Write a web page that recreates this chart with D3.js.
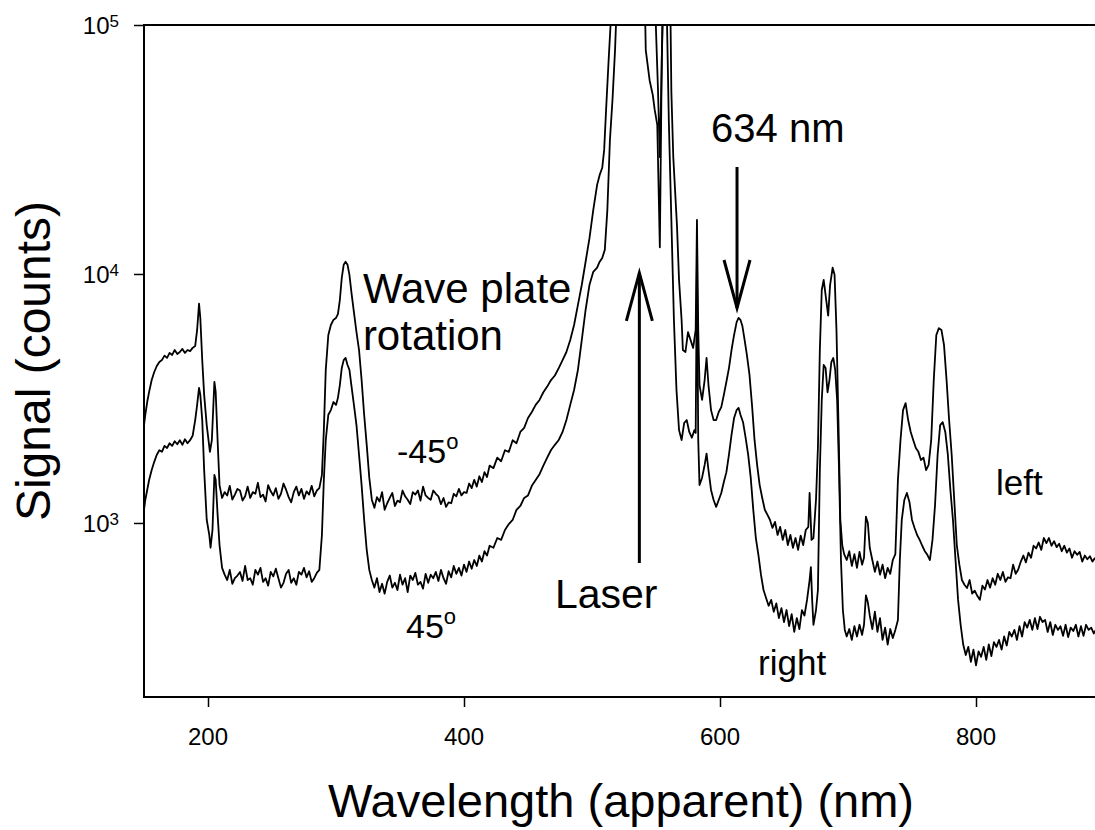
<!DOCTYPE html>
<html>
<head>
<meta charset="utf-8">
<script src="https://cdn.jsdelivr.net/npm/d3@7"></script>
<style>
  html, body { margin: 0; padding: 0; background: #fff; }
  svg { display: block; }
  text { font-family: "Liberation Sans", Arial, sans-serif; fill: #000; }
</style>
</head>
<body>
<svg id="chart" width="1095" height="830"></svg>
<script>
// ---------------- data (wavelength nm, counts) ----------------
const xTicks = [200, 400, 600, 800];
const yTicks = [1e3, 1e4, 1e5];
const yTickExponents = ["3", "4", "5"];

// upper trace: wave plate -45°, "left"
const leftSpectrum = [
[150,2470],[151,2720],[152.5,3060],[154,3360],[156,3750],[158,4040],[160,4270],[162,4430],[164,4510],[166,4700],
[168,4600],[170,4820],[172,4730],[174,4950],[176,4770],[178,4860],[180,5000],[182,4820],[184,4950],[186,4900],
[188,5050],[190,5140],[191.5,5960],[193,7600],[194,6650],[195.5,4510],[197,3270],[199,2470],[201.5,1930],[203,2150],
[205,3690],[206,3360],[207.5,2150],[209,1420],[211,1260],[213,1330],[215,1290],[217,1410],[219,1240],[221,1300],
[223,1370],[225,1350],[227,1230],[229,1280],[231,1400],[233,1260],[235,1330],[237,1310],[239,1450],[241,1270],
[243,1300],[245,1220],[247,1420],[249,1340],[251,1290],[253,1380],[255,1250],[257,1310],[259,1440],[261,1360],
[263,1270],[265,1210],[267,1330],[269,1400],[271,1290],[273,1370],[275,1250],[277,1340],[279,1300],[281,1410],
[283,1280],[285,1350],[287,1380],[289,1560],[290.5,2360],[292,4120],[294,5690],[296,6240],[298,6540],[300,6660],
[301.5,6900],[303,7860],[304.5,9640],[306,10890],[307.5,11200],[309,10890],[310.5,9920],[312,8470],[314,7030],[316,5840],
[318,4950],[320,3750],[322,2720],[324,2060],[326,1520],[328,1240],[330,1150],[332,1270],[334,1220],[336,1330],
[338,1130],[340,1200],[342,1260],[344,1320],[346,1170],[348,1230],[350,1210],[352,1350],[354,1280],[356,1240],
[358,1190],[360,1330],[362,1300],[364,1350],[366,1230],[368,1400],[370,1290],[372,1260],[374,1240],[376,1350],
[378,1310],[380,1280],[382,1190],[384,1260],[386,1160],[388,1210],[390,1200],[392,1310],[394,1280],[396,1370],
[398,1290],[400,1330],[402,1320],[404,1440],[406,1380],[408,1490],[410,1400],[412,1540],[414,1460],[416,1600],
[418,1530],[420,1700],[423,1660],[426,1830],[429,1770],[432,1960],[435,1930],[438,2150],[441,2090],[444,2320],
[447,2410],[450,2640],[453,2790],[456,2980],[459,3120],[462,3350],[465,3530],[468,3750],[471,3910],[474,4190],
[477,4510],[480,4860],[483,5430],[486,6240],[489,7510],[492,9030],[495,11200],[498,13900],[501,18100],[504,22800],
[506,25000],[508,26700],[509.5,31500],[511,45600],[513,72400],[514.5,100000],[516,150000],[530,150000],[549,150000],
[550,95000],[551.5,56000],[553,29500],[554.5,70000],[555.5,150000],[561,150000],[562,54000],[563.5,29500],[566.4,15600],
[568,9460],[570,6535],[571,4950],[573,4860],[575,5840],[577,5430],[579,5050],[581,5960],[582,16500],[583,5960],
[584,3580],[586,3120],[588,3750],[589.5,4600],[591,3580],[593,2840],[595,2590],[597,2590],[599,2790],[601,2920],
[603,3270],[605,3690],[607,4190],[609,4950],[611,5690],[613,6410],[614.5,6660],[616,6540],[617.5,6180],[619,5530],
[621,4730],[623,3950],[625,2980],[627,2150],[629,1710],[631,1420],[633,1260],[635,1130],[637,1080],[639,1030],
[641,955],[643,1010],[645,895],[647,965],[649,855],[651,937],[653,815],[655,895],[657,795],[659,870],
[661,780],[663,890],[665,815],[667,937],[669,965],[670,1320],[671.5,855],[673,870],[675,1240],[676.5,2010],
[678,4950],[679.5,8620],[681,9460],[683,7860],[684.5,6800],[686,9030],[688,10600],[689.5,9920],[691,5960],[692.5,2590],
[694,1030],[695.5,815],[697,750],[699,710],[701,770],[703,672],[705,750],[707,660],[709,765],[711,680],
[712.5,725],[714,1060],[715.5,1000],[717,795],[719,710],[721,636],[723,700],[725,620],[727,680],[729,600],
[731,660],[733,625],[735,710],[737,750],[739,1490],[741,2150],[743,2840],[745,3030],[747,2590],[749,2320],
[751,2150],[753,2000],[755,1930],[757,1790],[759,1830],[761,1630],[763,1710],[765,2150],[767,3750],[769,5690],
[771,6060],[773,5960],[775,5190],[777,3750],[779,2590],[781,1880],[783,1240],[785,815],[787,680],[789,590],
[791,565],[793,548],[795,590],[797,520],[799,535],[801,510],[803,491],[805,560],[807,540],[809,590],
[811,550],[813,600],[815,565],[817,625],[819,590],[821,636],[823,580],[825,605],[827,600],[829,680],
[831,625],[833,650],[835,700],[837,740],[839,695],[841,760],[843,725],[845,810],[847,790],[849,835],
[851,780],[853,870],[855,830],[857,870],[859,810],[861,845],[863,800],[865,825],[867,770],[869,810],
[871,760],[873,790],[875,725],[877,770],[879,745],[881,765],[883,700],[885,740],[887,715],[889,735],
[891,700],[893,725]
];

// lower trace: wave plate 45°, "right"
const rightSpectrum = [
[150,1128],[151,1237],[152.5,1357],[154,1488],[156,1633],[158,1760],[160,1880],[162,1960],[164,1930],[166,2040],
[168,2000],[170,2090],[172,2040],[174,2130],[176,2070],[178,2150],[180,2060],[182,2170],[184,2090],[186,2150],
[188,2240],[190,2590],[191.5,2980],[193,3490],[194,3270],[195.5,2590],[197,1630],[199,1030],[201,895],[202,795],
[203.5,937],[205,1560],[206,1490],[207.5,1080],[209,815],[211,660],[213,620],[215,590],[217,648],[219,570],
[221,600],[223,615],[225,636],[227,585],[229,672],[231,590],[233,600],[235,565],[237,648],[239,620],
[241,660],[243,580],[245,600],[247,560],[249,636],[251,610],[253,655],[255,600],[257,550],[259,575],
[261,625],[263,648],[265,575],[267,600],[269,565],[271,636],[273,620],[275,660],[277,605],[279,640],
[281,580],[283,600],[285,630],[287,648],[289,895],[290.5,1488],[292,2154],[294,2720],[296,2840],[298,3060],
[300,2980],[301.5,3180],[303,3580],[304.5,4190],[306,4510],[307.5,4600],[309,4310],[310.5,4120],[312,3580],[314,2980],
[316,2470],[318,1880],[320,1420],[322,1030],[324,779],[326,648],[328,590],[330,550],[332,600],[334,528],
[336,570],[338,520],[340,580],[342,615],[344,550],[346,575],[348,538],[350,620],[352,565],[354,600],
[356,528],[358,615],[360,590],[362,630],[364,565],[366,580],[368,545],[370,625],[372,575],[374,620],
[376,600],[378,636],[380,585],[382,648],[384,600],[386,570],[388,640],[390,605],[392,672],[394,625],
[396,660],[398,615],[400,680],[402,636],[404,700],[406,655],[408,710],[410,672],[412,740],[414,700],
[416,770],[418,740],[420,810],[423,795],[426,870],[429,855],[432,937],[435,990],[438,1028],[441,1128],
[444,1170],[447,1260],[450,1290],[453,1410],[456,1488],[459,1570],[462,1700],[465,1830],[468,1964],[471,2060],
[474,2154],[477,2320],[480,2590],[483,2980],[486,3420],[489,4120],[492,5430],[495,7170],[498,9030],[501,10200],
[504,10600],[506,11200],[508,11600],[510,12500],[512,18100],[514,34500],[516,50000],[518,79300],[520,150000],[530,150000],
[541,150000],[542,79300],[545,60000],[547.5,52300],[549,45600],[551,39700],[553,12800],[554.5,72400],[556,150000],[558,150000],
[560,41500],[562,16500],[564,6535],[566,3420],[568,2360],[570,2154],[572,2520],[574,2590],[576,2320],[578,2200],
[580,2360],[581,2300],[582,11400],[583,2154],[584,1420],[586,1520],[588,1710],[589.5,1900],[591,1630],[593,1357],
[595,1237],[597,1160],[599,1237],[601,1320],[603,1460],[605,1600],[607,1880],[609,2260],[611,2640],[613,2843],
[614.5,2900],[616,2720],[618,2540],[620,2200],[622,1880],[624,1520],[626,1128],[628,870],[630,745],[632,620],
[634,538],[636,500],[638,465],[640,491],[642,440],[644,475],[646,415],[648,455],[650,400],[652,447],
[654,385],[656,430],[658,365],[660,415],[662,375],[664,447],[666,425],[668,491],[670,590],[671,665],
[672,491],[673,390],[675,447],[676.5,538],[678,1633],[679.5,3119],[681,4310],[682.5,4190],[684,3350],[685.5,3750],
[687,4430],[688.5,4600],[690,4120],[691.5,3119],[693,1633],[694.5,710],[696,447],[697.5,372],[699,350],[701,375],
[703,339],[705,385],[707,350],[709,390],[711,355],[712.5,390],[714,512],[715.5,480],[717,425],[719,375],
[721,440],[723,365],[725,415],[727,339],[729,380],[731,325],[733,375],[735,345],[737,372],[739,408],
[740.5,710],[742,1028],[744,1237],[746,1320],[748,1215],[750,1028],[752,955],[754,895],[756,855],[758,810],
[760,770],[762,745],[764,710],[766,855],[768,1180],[770,1880],[772,2470],[774,2540],[776,2320],[778,1880],
[780,1357],[782,1028],[784,710],[786,491],[788,390],[790,325],[792,295],[794,318],[796,277],[798,310],
[800,268],[802,305],[804,290],[806,318],[808,282],[810,325],[812,292],[814,332],[816,318],[818,339],
[820,310],[822,350],[824,322],[826,365],[828,350],[830,372],[832,339],[834,385],[836,350],[838,400],
[840,380],[842,408],[844,372],[846,415],[848,375],[850,420],[852,400],[854,408],[856,365],[858,400],
[860,355],[862,390],[864,372],[866,385],[868,352],[870,390],[872,348],[874,380],[876,368],[878,390],
[880,350],[882,385],[884,352],[886,390],[888,372],[890,380],[892,360],[894,375]
];

// annotations (positions in data units)
const labels = [
  { text: "Wave plate", nm: 321, counts: 7650, size: 42 },
  { text: "rotation",   nm: 321, counts: 4952, size: 42 },
  { text: "634 nm",     nm: 593, counts: 33900, size: 40 },
  { text: "Laser",      nm: 471, counts: 456, size: 41 },
  { text: "right",      nm: 629.7, counts: 246, size: 35 },
  { text: "left",       nm: 815.6, counts: 1295, size: 35 }
];
const degreeLabels = [
  { text: "-45", nm: 347.7, counts: 1742 },
  { text: "45",  nm: 354.7, counts: 345 }
];
const arrows = [
  { nm: 537, from: 690, to: 10100 },     // Laser arrow (pointing up)
  { nm: 613.3, from: 26900, to: 7300 }   // 634 nm arrow (pointing down)
];

// ---------------- chart ----------------
const svg = d3.select("#chart");
const W = 1095, H = 830;
const margin = { left: 144, top: 25, bottom: 697, right: 1104 };

const x = d3.scaleLinear().domain([150, 900]).range([margin.left, margin.right]);
const y = d3.scaleLog().domain([200, 1e5]).range([margin.bottom, margin.top]);

svg.append("rect").attr("width", W).attr("height", H).attr("fill", "#fff");

svg.append("defs").append("clipPath").attr("id", "plotclip")
  .append("rect")
  .attr("x", margin.left).attr("y", margin.top)
  .attr("width", margin.right - margin.left).attr("height", margin.bottom - margin.top);

const line = d3.line().x(d => x(d[0])).y(d => y(d[1]));

const plot = svg.append("g").attr("clip-path", "url(#plotclip)");
[leftSpectrum, rightSpectrum].forEach(s => {
  plot.append("path")
    .datum(s)
    .attr("d", line)
    .attr("fill", "none")
    .attr("stroke", "#000")
    .attr("stroke-width", 1.8)
    .attr("stroke-linejoin", "round");
});

// frame
svg.append("rect")
  .attr("x", margin.left).attr("y", margin.top)
  .attr("width", margin.right - margin.left).attr("height", margin.bottom - margin.top)
  .attr("fill", "none").attr("stroke", "#000").attr("stroke-width", 2);

// x axis
const xAxis = d3.axisBottom(x).tickValues(xTicks).tickSize(10).tickFormat("");
const gx = svg.append("g").attr("transform", `translate(0,${margin.bottom})`).call(xAxis);
gx.select(".domain").remove();
gx.selectAll(".tick line").attr("stroke", "#000").attr("stroke-width", 1.5);
svg.selectAll(".xlab").data(xTicks).enter().append("text")
  .attr("x", d => x(d)).attr("y", margin.bottom + 48)
  .attr("text-anchor", "middle").attr("font-size", 24)
  .text(d => d);

// y axis
const yAxis = d3.axisLeft(y).tickValues(yTicks).tickSize(10).tickFormat("");
const gy = svg.append("g").attr("transform", `translate(${margin.left},0)`).call(yAxis);
gy.select(".domain").remove();
gy.selectAll(".tick line").attr("stroke", "#000").attr("stroke-width", 1.5);
const yl = svg.selectAll(".ylab").data(yTicks).enter().append("text")
  .attr("x", margin.left - 25).attr("y", d => y(d) + 9)
  .attr("text-anchor", "end").attr("font-size", 24);
yl.append("tspan").text("10");
yl.append("tspan").attr("font-size", 17).attr("dy", -7).text((d, i) => yTickExponents[i]);

// axis titles
svg.append("text")
  .attr("transform", `translate(50,${(margin.top + margin.bottom) / 2}) rotate(-90)`)
  .attr("text-anchor", "middle").attr("font-size", 48)
  .text("Signal (counts)");
svg.append("text")
  .attr("x", (margin.left + margin.right) / 2 - 3).attr("y", 817)
  .attr("text-anchor", "middle").attr("font-size", 47)
  .text("Wavelength (apparent) (nm)");

// annotations
labels.forEach(l => {
  svg.append("text").attr("x", x(l.nm)).attr("y", y(l.counts))
    .attr("font-size", l.size).text(l.text);
});
degreeLabels.forEach(l => {
  const t = svg.append("text").attr("x", x(l.nm)).attr("y", y(l.counts)).attr("font-size", 34);
  t.append("tspan").text(l.text);
  t.append("tspan").attr("font-size", 22).attr("dy", -14).text("o");
});
arrows.forEach(a => {
  const ax = x(a.nm), y0 = y(a.from), y1 = y(a.to);
  const dir = y1 < y0 ? 1 : -1; // 1 = pointing up
  const g = svg.append("g").attr("stroke", "#000").attr("stroke-width", 3).attr("fill", "none");
  g.append("line").attr("x1", ax).attr("x2", ax).attr("y1", y0).attr("y2", y1);
  g.append("polyline")
    .attr("points", `${ax - 13},${y1 + dir * 48} ${ax},${y1} ${ax + 13},${y1 + dir * 48}`);
});
</script>
</body>
</html>
